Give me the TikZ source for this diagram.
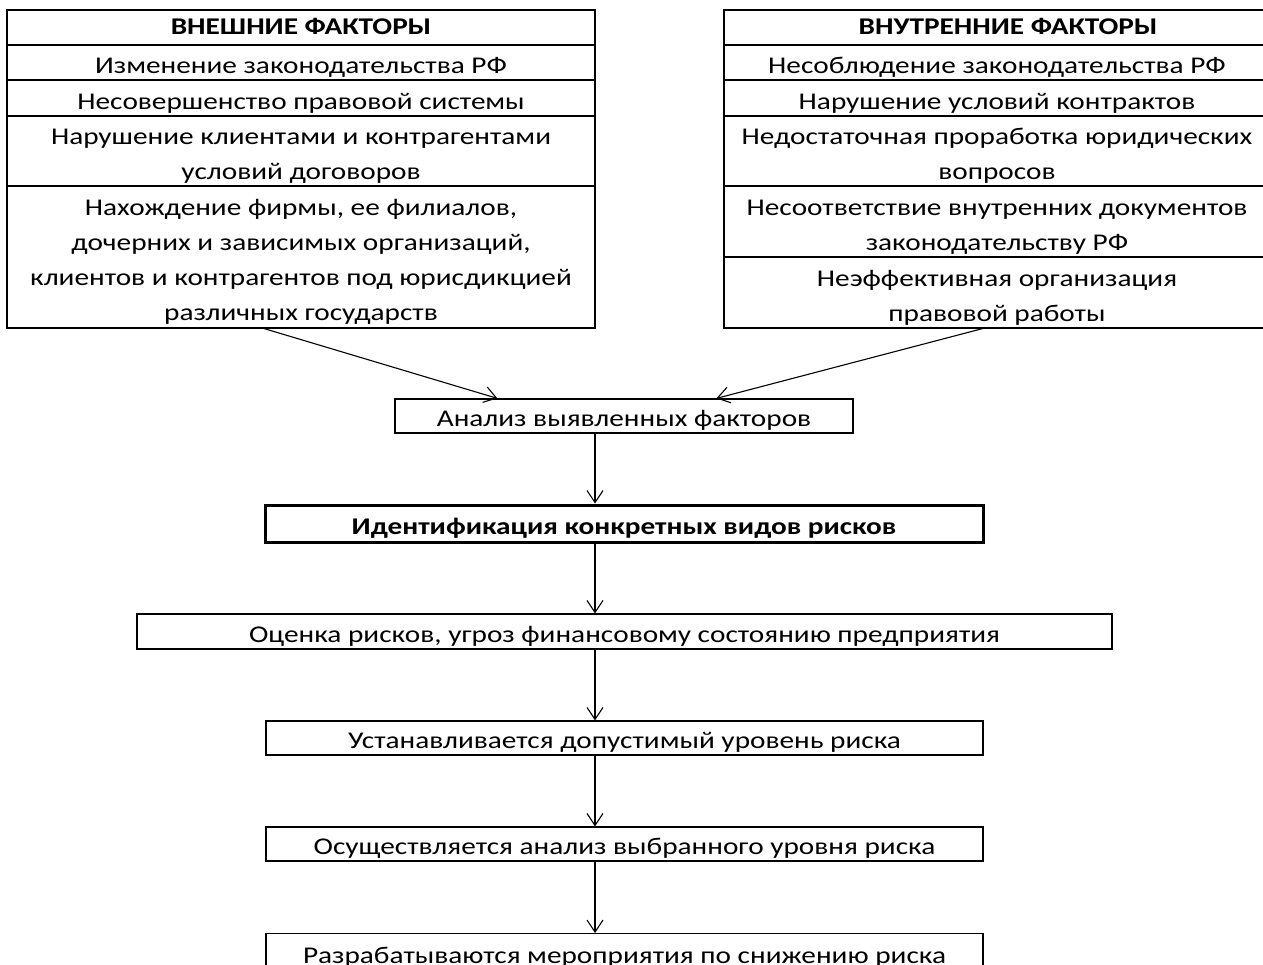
\documentclass[tikz,border=0pt]{standalone}
\usepackage{fontspec}
\setmainfont{Carlito}[FakeStretch=1.22]
\usetikzlibrary{arrows.meta,calc}
\newcommand\stS{\rule{0pt}{26pt}}
\newcommand\stT{\rule[-6pt]{0pt}{26pt}}
\newcommand\stB{\rule{0pt}{25pt}}
\begin{document}
\begin{tikzpicture}[x=1pt,y=-1pt,
  cell/.style={draw,line width=1.3pt,rectangle,inner sep=0pt,align=center,font=\fontsize{24}{35}\selectfont},
  tcell/.style={cell,font=\fontsize{24}{35}\selectfont\bfseries},
  box/.style={draw,line width=1.2pt,rectangle,inner sep=0pt,align=center,font=\fontsize{24}{35}\selectfont},
  arr/.style={line width=1.1pt,-{Straight Barb[length=12pt,width=16pt,line width=1.1pt]}}]
\useasboundingbox (0,0) rectangle (1263,965);
\clip (0,0) rectangle (1263,965);
% left table
\node[tcell,minimum width=588,minimum height=35] (l0) at (301,27.5) {\stT ВНЕШНИЕ ФАКТОРЫ};
\node[cell,minimum width=588,minimum height=35] (l1) at (301,62.5) {\stS Изменение законодательства РФ};
\node[cell,minimum width=588,minimum height=36] (l2) at (301,98) {\stS Несовершенство правовой системы};
\node[cell,minimum width=588,minimum height=70] (l3) at (301,151) {\stS Нарушение клиентами и контрагентами\\условий договоров};
\node[cell,minimum width=588,minimum height=142] (l4) at (301,257) {\stS Нахождение фирмы, ее филиалов,\\дочерних и зависимых организаций,\\клиентов и контрагентов под юрисдикцией\\различных государств};
% right table
\node[tcell,minimum width=546,minimum height=35] (r0) at (997,27.5) {\stT\hspace*{22pt}ВНУТРЕННИЕ ФАКТОРЫ};
\node[cell,minimum width=546,minimum height=35] (r1) at (997,62.5) {\stS Несоблюдение законодательства РФ};
\node[cell,minimum width=546,minimum height=36] (r2) at (997,98) {\stS Нарушение условий контрактов};
\node[cell,minimum width=546,minimum height=70] (r3) at (997,151) {\stS Недостаточная проработка юридических\\вопросов};
\node[cell,minimum width=546,minimum height=71] (r4) at (997,221.5) {\stS Несоответствие внутренних документов\\законодательству РФ};
\node[cell,minimum width=546,minimum height=71] (r5) at (997,292.5) {\stS Неэффективная организация\\правовой работы};
% flow
\node[box,minimum width=458,minimum height=34] (an) at (624,416) {\stB Анализ выявленных факторов};
\node[box,line width=3pt,minimum width=718,minimum height=37] (id) at (624,523.5) {\stB\textbf{Идентификация конкретных видов рисков}};
\node[box,minimum width=975,minimum height=35] (oc) at (624.5,631.5) {\stB Оценка рисков, угроз финансовому состоянию предприятия};
\node[box,minimum width=717,minimum height=34] (us) at (624.5,738) {\stB Устанавливается допустимый уровень риска};
\node[box,minimum width=717,minimum height=34] (os) at (624.5,844) {\stB Осуществляется анализ выбранного уровня риска};
\node[box,minimum width=717,minimum height=38,anchor=north] (ra) at (624.5,933) {\stB Разрабатываются мероприятия по снижению риска};
% connectors
\coordinate (ls) at ($(l4.south west)+(258,0)$);
\coordinate (le) at ($(an.north west)+(103,0)$);
\coordinate (rs) at ($(r5.south west)+(259,0)$);
\coordinate (re) at ($(an.north west)+(322,0)$);
\draw[arr] (ls) -- (le);
\draw[arr] (rs) -- (re);
\draw[arr] (an.south -| 595,0) -- (id.north -| 595,0);
\draw[arr] (id.south -| 595,0) -- (oc.north -| 595,0);
\draw[arr] (oc.south -| 595,0) -- (us.north -| 595,0);
\draw[arr] (us.south -| 595,0) -- (os.north -| 595,0);
\draw[arr] (os.south -| 595,0) -- (ra.north -| 595,0);
\end{tikzpicture}
\end{document}
